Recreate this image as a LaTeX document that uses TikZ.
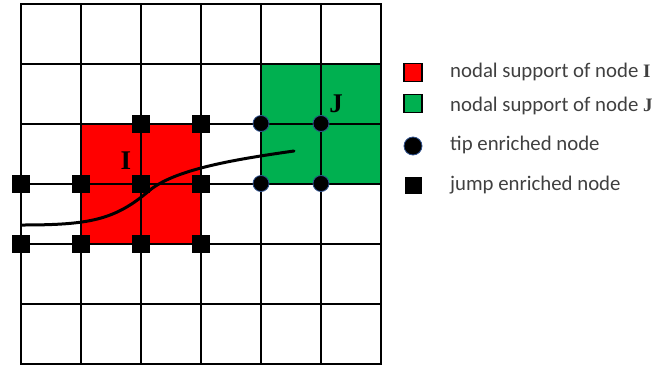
\documentclass[tikz,border=0pt]{standalone}
\usepackage{fontspec}
\setmainfont{Carlito}
\newfontfamily\serifb{Liberation Serif}
\definecolor{legendgray}{HTML}{404040}
\definecolor{supI}{HTML}{FF0000}
\definecolor{supJ}{HTML}{00B050}
\definecolor{tipedge}{HTML}{2F528F}
\begin{document}
\begin{tikzpicture}[x=1pt,y=-1pt,
  jump/.style={fill=black,minimum size=18pt,inner sep=0pt,draw=none},
  tip/.style={circle,fill=black,draw=tipedge,line width=0.8pt,minimum size=16pt,inner sep=0pt},
  gridline/.style={line width=2pt,line cap=rect},
  crack/.style={line width=3pt,line cap=round},
  legtext/.style={anchor=base west,font=\fontsize{20.8}{25}\selectfont,text=legendgray,inner sep=0pt},
  biglabel/.style={font=\serifb\bfseries\fontsize{27}{30}\selectfont,inner sep=0pt},
  legbox/.style={draw=black,line width=1.5pt,minimum size=18pt,inner sep=0pt}]
\useasboundingbox (0,0) rectangle (656,365);
% supports
\fill[supI] (81,123.5) rectangle (201,243.5);
\fill[supJ] (261,63.5) rectangle (381,183.5);
% grid
\foreach \i in {0,...,6} {
  \draw[gridline] (21+60*\i,3.5) -- (21+60*\i,363.5);
  \draw[gridline] (21,3.5+60*\i) -- (381,3.5+60*\i);
}
% crack
\coordinate (c0) at (21.5,225);
\coordinate (c1) at (150,190);
\coordinate (c2) at (294,151);
\draw[crack] (c0) .. controls (90,225) and (115,220) .. (c1)
             .. controls (175,170) and (230,160) .. (c2);
% labels
\node[biglabel] (labI) at (126,161) {I};
\node[biglabel] (labJ) at (336,104) {J};
% jump enriched nodes
\node[jump] (j1) at (141,123.5) {};
\node[jump] (j2) at (201,123.5) {};
\node[jump] (j3) at (21,183.5) {};
\node[jump] (j4) at (81,183.5) {};
\node[jump] (j5) at (141,183.5) {};
\node[jump] (j6) at (201,183.5) {};
\node[jump] (j7) at (21,243.5) {};
\node[jump] (j8) at (81,243.5) {};
\node[jump] (j9) at (141,243.5) {};
\node[jump] (j10) at (201,243.5) {};
% tip enriched nodes
\node[tip] (t1) at (261,123.5) {};
\node[tip] (t2) at (321,123.5) {};
\node[tip] (t3) at (261,183.5) {};
\node[tip] (t4) at (321,183.5) {};
% legend
\node[legbox,fill=supI] (lgI) at (413,72.5) {};
\node[legbox,fill=supJ] (lgJ) at (413,103.5) {};
\node[tip,minimum size=18pt] (lgT) at (413,146) {};
\node[jump,minimum size=17pt] (lgJump) at (413.5,185.5) {};
\node[legtext] (txI) at (450,77) {nodal support of node {\serifb\bfseries\fontsize{19}{24}\selectfont I}};
\node[legtext] (txJ) at (450,111) {nodal support of node {\serifb\bfseries\fontsize{19}{24}\selectfont J}};
\node[legtext] (txT) at (450,150) {tip enriched node};
\node[legtext] (txJump) at (450,190) {jump enriched node};
\end{tikzpicture}
\end{document}
